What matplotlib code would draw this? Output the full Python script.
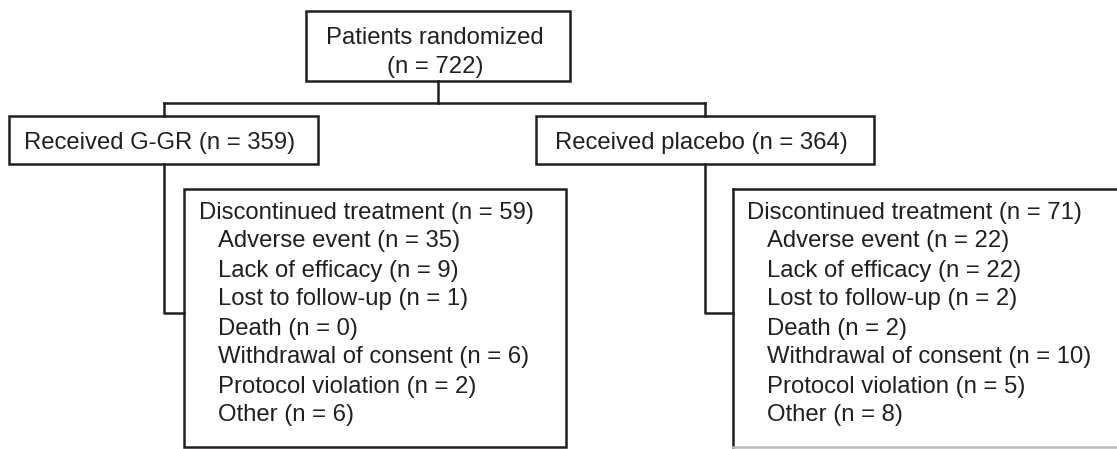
import matplotlib.pyplot as plt
from matplotlib.patches import Rectangle

plt.rcParams['font.family'] = ['Liberation Sans', 'DejaVu Sans']

# data
n_total = 722
arms = ["G-GR", "placebo"]
n_arm = [359, 364]
n_disc = [59, 71]
reasons = ["Adverse event", "Lack of efficacy", "Lost to follow-up", "Death",
           "Withdrawal of consent", "Protocol violation", "Other"]
reason_n = {
    "G-GR": [35, 9, 1, 0, 6, 2, 6],
    "placebo": [22, 22, 2, 2, 10, 5, 8],
}

W, H = 1117, 449
col = '#231f20'
lw = 1.8
fs = 17.2

fig = plt.figure(figsize=(W / 100, H / 100), dpi=100)
ax = fig.add_axes([0, 0, 1, 1])
ax.set_xlim(0, W)
ax.set_ylim(H, 0)
ax.axis('off')


def box(x0, y0, x1, y1):
    ax.add_patch(Rectangle((x0, y0), x1 - x0, y1 - y0, fill=False,
                           edgecolor=col, lw=lw, zorder=2))


def line(xs, ys, c=col):
    ax.plot(xs, ys, color=c, lw=lw, solid_capstyle='projecting', zorder=2)


def txt(x, y, s, ha='left'):
    ax.text(x, y, s, ha=ha, va='baseline', fontsize=fs, color=col)


# top box
box(306, 11, 570, 81)
txt(435, 44, "Patients randomized", ha='center')
txt(435, 72.5, f"(n = {n_total})", ha='center')
line([438, 438], [81, 103])
line([164, 705], [103, 103])
line([164, 164], [103, 116])
line([705, 705], [103, 116])

# arm boxes
box(9, 116, 318, 164)
txt(24, 149.5, f"Received {arms[0]} (n = {n_arm[0]})")
box(536, 116, 874, 164)
txt(555, 149.5, f"Received {arms[1]} (n = {n_arm[1]})")

# connectors to discontinued boxes
line([164, 164, 184], [164, 313, 313])
line([705, 705, 733], [164, 313, 313])

# left discontinued box
box(184, 189, 566, 447)
# right discontinued box (cut off on the right)
line([733, 733], [189, 447])
line([733, W + 5], [189, 189])
line([733, W + 5], [447, 447], c='#bbbbbb')

y_first = 218.5
dy = 29.0
for x_head, x_item, arm, nd in [(199, 218, arms[0], n_disc[0]),
                                (747, 767, arms[1], n_disc[1])]:
    txt(x_head, y_first, f"Discontinued treatment (n = {nd})")
    for i, (r, v) in enumerate(zip(reasons, reason_n[arm])):
        txt(x_item, y_first + dy * (i + 1), f"{r} (n = {v})")

fig.savefig("out.png", dpi=100, facecolor='white')
